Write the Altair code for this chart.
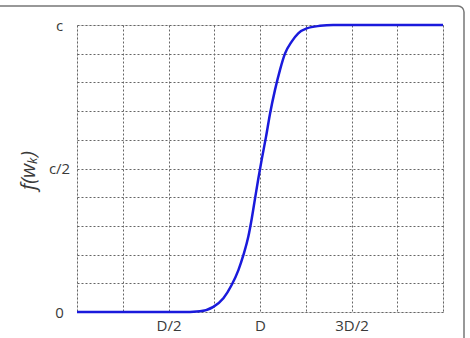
import altair as alt
import pandas as pd

# curve values (x in units of D, y in units of c)
xs = [0.0, 0.3, 0.563, 0.672, 0.745, 0.80, 0.845, 0.882, 0.909, 0.936, 0.955, 0.973, 0.991,
      1.009, 1.033, 1.055, 1.082, 1.109, 1.137, 1.173, 1.209, 1.255, 1.328, 1.4, 1.7, 2.0]
ys = [0.0, 0.0, 0.0, 0.003, 0.018, 0.048, 0.094, 0.146, 0.198, 0.262, 0.326, 0.396, 0.465,
      0.53, 0.611, 0.692, 0.774, 0.843, 0.901, 0.942, 0.971, 0.988, 0.997, 1.0, 1.0, 1.0]

x_grid = [0, 0.25, 0.5, 0.75, 1.0, 1.25, 1.5, 1.75, 2.0]
y_grid = [0, 0.1, 0.2, 0.3, 0.4, 0.5, 0.6, 0.7, 0.8, 0.9, 1.0]
x_labels = {0.5: "D/2", 1.0: "D", 1.5: "3D/2"}
y_labels = {0: "0", 0.5: "c/2", 1.0: "c"}

df = pd.DataFrame({"x": xs, "y": ys})

def label_expr(d):
    parts = ""
    for v, t in d.items():
        parts += f"abs(datum.value-{v})<1e-6?'{t}':"
    return parts + "''"

font = "Open Sans"

frame = alt.Chart(pd.DataFrame({"a": [0]})).mark_rect(
    fill=None, stroke="#777777", strokeWidth=1.5, cornerRadius=6, clip=False
).encode(
    x=alt.value(-90), x2=alt.value(387), y=alt.value(-19), y2=alt.value(345)
)

line = alt.Chart(df).mark_line(color="#1a1adc", strokeWidth=2.5, interpolate="monotone").encode(
    x=alt.X("x:Q", scale=alt.Scale(domain=[0, 2], nice=False),
            axis=alt.Axis(values=x_grid, labelExpr=label_expr(x_labels), title=None,
                          grid=True, gridDash=[2, 2], gridColor="#666666", gridOpacity=1,
                          ticks=False, domain=False, labelPadding=6,
                          labelFont=font, labelFontSize=15, labelColor="#3a3a3a")),
    y=alt.Y("y:Q", scale=alt.Scale(domain=[0, 1], nice=False),
            axis=alt.Axis(values=y_grid, labelExpr=label_expr(y_labels), title="f(wₖ)",
                          grid=True, gridDash=[2, 2], gridColor="#666666", gridOpacity=1,
                          ticks=False, domain=False, labelPadding=18, labelAlign="center",
                          labelFont=font, labelFontSize=15, labelColor="#3a3a3a",
                          titleFont=font, titleFontSize=20, titleFontWeight="normal",
                          titleFontStyle="italic", titleColor="#3a3a3a",
                          titleAngle=-90, titleAlign="center", titleBaseline="middle",
                          titleX=-49, titleY=145)),
)

chart = alt.layer(frame, line).properties(
    width=366, height=287,
    autosize=alt.AutoSizeParams(type="none"),
    padding={"left": 77, "top": 25, "right": 27, "bottom": 26},
).configure_view(stroke="#888888", strokeWidth=1.5).configure(background="white")

chart.save("out.html", embed_options={"renderer": "svg", "actions": False})
